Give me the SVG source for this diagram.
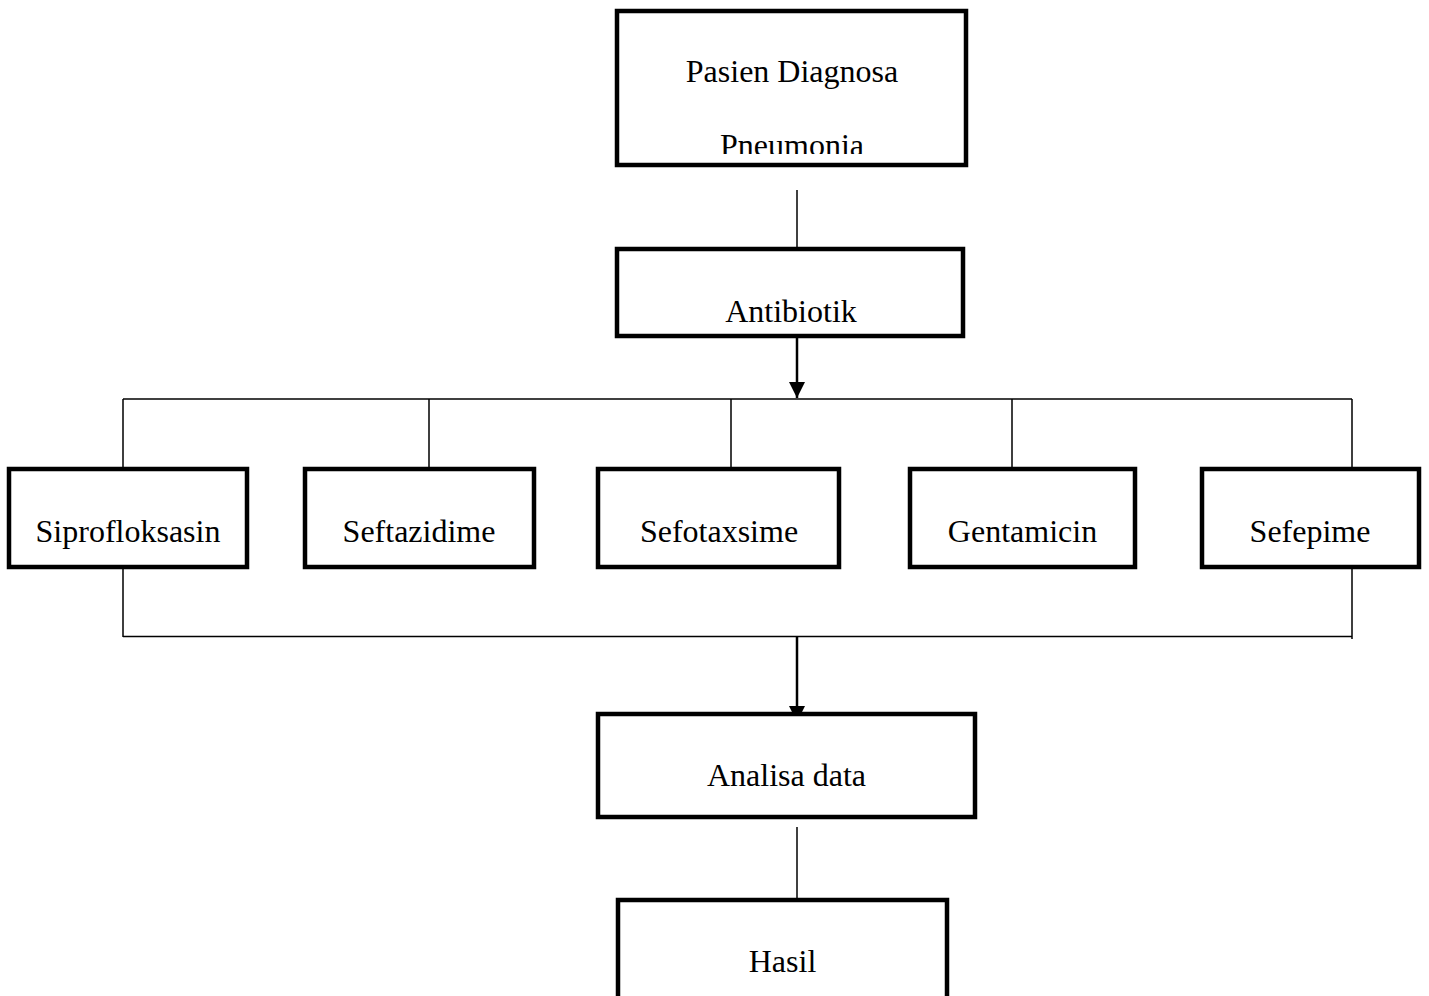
<svg xmlns="http://www.w3.org/2000/svg" width="1429" height="996" viewBox="0 0 1429 996">
<style>
.box{fill:#fff;stroke:#000;stroke-width:4.5}
.lbl{font-family:"Liberation Serif","Times New Roman",serif;font-size:32px;fill:#000;text-anchor:middle}
.thin{fill:none;stroke:#000;stroke-width:1.5}
.thick{fill:none;stroke:#000;stroke-width:2.5}
</style>
<defs>
<marker id="arr" markerWidth="16" markerHeight="16" refX="16" refY="8" orient="auto" markerUnits="userSpaceOnUse" viewBox="0 0 16 16">
<path d="M0,0 L16,8 L0,16 Z" fill="#000"/>
</marker>
<clipPath id="clipTop"><rect x="620" y="14" width="343" height="140"/></clipPath>
</defs>
<rect width="1429" height="996" fill="#fff"/>
<g id="connectors">
<path class="thin" d="M797,190 V249"/>
<path class="thick" d="M797,338 V398" marker-end="url(#arr)"/>
<path class="thin" d="M123,399 H1352"/>
<path class="thin" d="M123,399 V467 M429,399 V467 M731,399 V467 M1012,399 V467 M1352,399 V467"/>
<path class="thin" d="M123,569 V637 M1352,569 V639"/>
<path class="thin" d="M123,636.5 H1352"/>
<path class="thick" d="M797,637 V722" marker-end="url(#arr)"/>
<path class="thin" d="M797,827 V898"/>
</g>
<g id="node-pasien">
<rect class="box" x="617" y="11" width="349" height="154"/>
<text class="lbl" x="792" y="82">Pasien Diagnosa</text>
<text class="lbl" x="792" y="156" clip-path="url(#clipTop)">Pneumonia</text>
</g>
<g id="node-antibiotik">
<rect class="box" x="617" y="249" width="346" height="87"/>
<text class="lbl" x="791" y="322">Antibiotik</text>
</g>
<g id="node-siprofloksasin">
<rect class="box" x="9" y="469" width="238" height="98"/>
<text class="lbl" x="128" y="542">Siprofloksasin</text>
</g>
<g id="node-seftazidime">
<rect class="box" x="305" y="469" width="229" height="98"/>
<text class="lbl" x="419" y="542">Seftazidime</text>
</g>
<g id="node-sefotaxsime">
<rect class="box" x="598" y="469" width="241" height="98"/>
<text class="lbl" x="719" y="542">Sefotaxsime</text>
</g>
<g id="node-gentamicin">
<rect class="box" x="910" y="469" width="225" height="98"/>
<text class="lbl" x="1022.5" y="542">Gentamicin</text>
</g>
<g id="node-sefepime">
<rect class="box" x="1202" y="469" width="217" height="98"/>
<text class="lbl" x="1310" y="542">Sefepime</text>
</g>
<g id="node-analisa">
<rect class="box" x="598" y="714" width="377" height="103"/>
<text class="lbl" x="786.5" y="786">Analisa data</text>
</g>
<g id="node-hasil">
<rect class="box" x="618" y="900" width="329" height="120"/>
<text class="lbl" x="782.5" y="972">Hasil</text>
</g>
</svg>
